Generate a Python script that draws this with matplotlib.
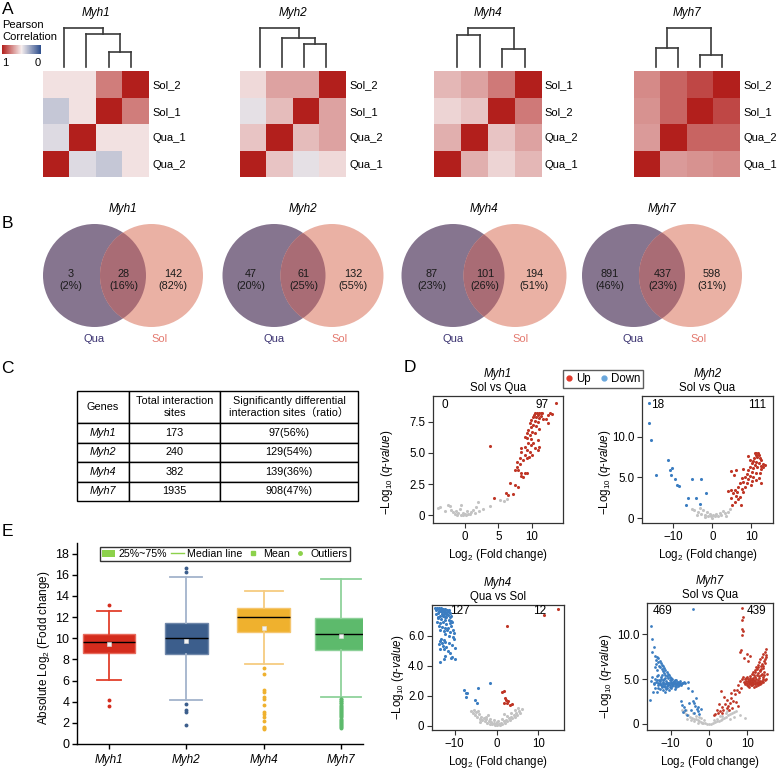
import numpy as np
import matplotlib
matplotlib.use('Agg')
import matplotlib.pyplot as plt
from matplotlib.colors import LinearSegmentedColormap, Normalize
from matplotlib.patches import Circle, Patch
from matplotlib.lines import Line2D
import matplotlib.cm as cm

plt.rcParams['font.family'] = ['Liberation Sans', 'Noto Sans CJK SC', 'DejaVu Sans']
plt.rcParams['mathtext.fontset'] = 'custom'
plt.rcParams['mathtext.rm'] = 'Liberation Sans'
plt.rcParams['mathtext.it'] = 'Liberation Sans:italic'

W, H = 777, 769

genes = ['Myh1', 'Myh2', 'Myh4', 'Myh7']

# ---------------- A: Pearson correlation (leaf order left->right = rows bottom->top)
hm_order = [['Qua_2', 'Qua_1', 'Sol_1', 'Sol_2'],
            ['Qua_1', 'Qua_2', 'Sol_1', 'Sol_2'],
            ['Qua_1', 'Qua_2', 'Sol_2', 'Sol_1'],
            ['Qua_1', 'Qua_2', 'Sol_1', 'Sol_2']]
hm_corr = [
    [[1.00, 0.44, 0.38, 0.53],
     [0.44, 1.00, 0.53, 0.53],
     [0.38, 0.53, 1.00, 0.77],
     [0.53, 0.53, 0.77, 1.00]],
    [[1.00, 0.60, 0.46, 0.55],
     [0.60, 1.00, 0.62, 0.68],
     [0.46, 0.62, 1.00, 0.68],
     [0.55, 0.68, 0.68, 1.00]],
    [[1.00, 0.65, 0.56, 0.63],
     [0.65, 1.00, 0.60, 0.68],
     [0.56, 0.60, 1.00, 0.78],
     [0.63, 0.68, 0.78, 1.00]],
    [[1.00, 0.70, 0.72, 0.74],
     [0.70, 1.00, 0.83, 0.83],
     [0.72, 0.83, 1.00, 0.90],
     [0.74, 0.83, 0.90, 1.00]],
]
# dendrogram merges: (node_a, node_b, height), leaves 0..3, new nodes 4, 5, 6
hm_merges = [
    [(2, 3, 0.385), (1, 4, 0.855), (0, 5, 1.0)],
    [(2, 3, 0.60), (1, 4, 0.75), (0, 5, 1.0)],
    [(0, 1, 0.81), (2, 3, 0.47), (4, 5, 1.0)],
    [(0, 1, 0.50), (2, 3, 0.30), (4, 5, 1.0)],
]

# ---------------- B: Venn counts
venn_qua_only = [3, 47, 87, 891]
venn_both = [28, 61, 101, 437]
venn_sol_only = [142, 132, 194, 598]

# ---------------- C: table
table_total = [173, 240, 382, 1935]
table_sig = [97, 129, 139, 908]

# ---------------- D: volcano plots (log2 FC, -log10 q)
vol_titles = ['Sol vs Qua', 'Sol vs Qua', 'Qua vs Sol', 'Sol vs Qua']
vol_n_down = [0, 18, 127, 469]
vol_n_up = [97, 111, 12, 439]

myh1_gray = [(-3.9, 0.56), (-3.6, 0.64), (-2.9, 0.29), (-2.5, 0.77), (-2.2, 0.69), (-2.0, 0.43),
             (-1.7, 0.21), (-1.5, 0.10), (-1.2, 0.02), (-1.0, 0.15), (-0.7, 0.48), (-0.6, 0.82),
             (-0.5, 0.02), (-0.25, 0.0), (0.0, 0.10), (0.25, 0.0), (0.5, 0.05), (0.75, 0.10),
             (1.0, 0.21), (1.2, 0.37), (1.5, 0.15), (1.7, 0.64), (2.0, 1.02), (2.2, 0.29),
             (2.7, 0.48), (3.7, 0.69), (5.2, 1.18), (5.8, 1.12), (6.3, 1.29), (-0.3, 0.2),
             (0.4, 0.3), (-1.3, 0.35)]
myh1_up = [(13.5, 9.05), (10.4, 8.2), (10.7, 8.2), (11.0, 8.2), (11.3, 8.2), (11.5, 8.2), (10.3, 8.06),
           (10.9, 8.06), (11.4, 7.98), (12.6, 8.2), (12.9, 8.14), (12.3, 8.06), (10.15, 7.93),
           (10.65, 7.88), (11.1, 7.8), (9.9, 7.66), (10.4, 7.61), (10.9, 7.53), (11.6, 7.72),
           (12.1, 7.72), (12.4, 7.45), (9.7, 7.39), (10.15, 7.26), (10.65, 7.18), (9.8, 7.07),
           (9.4, 6.86), (10.0, 6.72), (11.1, 6.91), (9.2, 6.59), (9.7, 6.45), (10.4, 6.59),
           (8.9, 6.32), (9.3, 6.19), (9.9, 6.11), (10.9, 6.05), (10.15, 5.84), (9.4, 5.79),
           (9.8, 5.65), (8.9, 5.52), (11.1, 5.52), (8.4, 5.39), (9.2, 5.25), (10.4, 5.39),
           (9.7, 5.11), (8.4, 5.11), (8.9, 4.85), (9.5, 4.71), (10.0, 4.85), (10.9, 5.25),
           (8.2, 4.58), (8.7, 4.45), (9.3, 4.58), (7.7, 4.31), (8.2, 4.12), (7.9, 3.64),
           (8.4, 3.42), (8.9, 3.38), (9.3, 3.38), (8.3, 3.16), (8.7, 3.1), (7.5, 3.59),
           (7.7, 3.86), (6.8, 2.62), (7.4, 2.44), (7.9, 2.3), (6.2, 1.77), (6.5, 1.61),
           (7.2, 1.69), (4.4, 1.34), (3.8, 5.57)]
myh1_down = []

myh2_gray = [(-5.3, 1.1), (-4.6, 0.95), (-3.7, 0.7), (-2.8, 0.5), (-2.0, 0.35), (-1.1, 0.3), (-0.3, 0.2),
             (0.6, 0.2), (1.5, 0.3), (2.3, 0.4), (3.2, 0.6), (4.0, 0.8), (4.5, 1.1), (-3.2, 1.2),
             (-1.4, 0.8), (-0.6, 0.5), (1.0, 0.5), (1.9, 0.65), (0.2, 0.35), (-2.4, 1.0), (2.8, 0.9),
             (-4.0, 0.4), (3.6, 0.3), (0.0, 0.05), (-1.8, 0.15)]
myh2_down = [(-16.4, 14.2), (-16.2, 11.7), (-15.7, 9.6), (-14.4, 5.3), (-11.4, 7.2), (-10.8, 5.9),
             (-10.3, 6.1), (-10.6, 5.3), (-9.5, 4.8), (-9.0, 4.1), (-8.6, 4.0), (-5.2, 4.8),
             (-3.0, 4.85), (-6.3, 2.45), (-4.1, 2.5), (-1.7, 3.06), (-6.9, 1.55), (-3.3, 1.7)]
myh2_up = [(10.9, 8.0), (11.3, 8.0), (11.8, 7.97), (11.1, 7.76), (11.9, 7.76), (11.6, 7.55), (10.7, 7.35),
           (12.2, 7.35), (12.6, 7.14), (10.5, 7.06), (11.3, 6.94), (11.9, 6.82), (13.0, 6.65),
           (10.1, 6.74), (10.9, 6.53), (12.4, 6.41), (13.5, 6.53), (9.6, 6.33), (10.5, 6.12),
           (11.6, 6.25), (12.6, 6.0), (9.2, 5.92), (7.9, 6.0), (10.1, 5.71), (11.1, 5.59),
           (12.2, 5.51), (8.8, 5.43), (9.6, 5.18), (10.5, 5.1), (8.3, 5.02), (9.2, 4.78),
           (10.2, 4.61), (7.5, 4.9), (7.9, 4.49), (9.0, 4.29), (9.9, 4.08), (7.0, 4.29),
           (8.3, 3.87), (6.6, 3.87), (7.5, 3.55), (5.7, 3.47), (6.4, 3.26), (7.9, 3.26),
           (4.9, 3.47), (4.0, 3.38), (5.3, 3.06), (6.2, 2.73), (7.0, 2.57), (6.6, 2.33),
           (4.9, 2.45), (5.7, 2.03), (7.3, 1.63), (5.1, 1.63), (4.7, 5.84), (6.2, 5.92),
           (5.6, 5.31), (9.2, 7.63), (9.6, 7.14), (11.9, 4.9), (12.6, 4.29), (13.0, 6.25),
           (11.1, 4.7)]

myh4_gray = [(-6.0, 0.95), (-5.6, 0.85), (-5.2, 0.7), (-4.9, 0.9), (-4.6, 0.55), (-4.3, 0.75),
             (-4.0, 0.45), (-3.7, 0.6), (-3.4, 0.35), (-3.1, 0.5), (-2.8, 0.3), (-2.5, 0.42),
             (-2.2, 0.2), (-1.9, 0.33), (-1.6, 0.12), (-1.3, 0.25), (-1.0, 0.08), (-0.7, 0.18),
             (-0.4, 0.04), (-0.1, 0.12), (0.2, 0.02), (0.5, 0.1), (0.8, 0.05), (1.1, 0.18),
             (1.4, 0.1), (1.7, 0.3), (2.0, 0.2), (2.3, 0.4), (2.6, 0.28), (2.9, 0.5), (3.2, 0.38),
             (3.5, 0.6), (3.8, 0.48), (4.1, 0.72), (4.4, 0.6), (4.7, 0.85), (5.0, 0.7), (5.3, 0.98),
             (5.6, 0.85), (6.0, 1.12), (-3.9, 0.25), (-2.6, 0.6), (-1.5, 0.45), (-0.6, 0.35),
             (0.4, 0.3), (1.3, 0.45), (2.4, 0.65), (3.4, 0.85), (4.5, 1.05), (-5.4, 1.05),
             (-4.4, 1.0), (5.1, 1.2), (0.0, 0.22), (-2.0, 0.7), (1.9, 0.8)]
myh4_down = [(-14.6, 7.84), (-14.1, 7.84), (-13.7, 7.84), (-13.2, 7.84), (-12.7, 7.79), (-12.2, 7.79),
             (-11.8, 7.74), (-11.3, 7.74), (-14.4, 7.70), (-13.8, 7.68), (-13.4, 7.66), (-12.9, 7.66),
             (-12.4, 7.61), (-11.9, 7.61), (-11.4, 7.57), (-14.0, 7.52), (-13.0, 7.47), (-12.6, 7.43),
             (-12.1, 7.47), (-11.6, 7.39), (-13.6, 7.34), (-12.8, 7.30), (-12.0, 7.23), (-11.2, 7.23),
             (-10.8, 7.30), (-14.0, 7.16), (-13.2, 7.11), (-12.2, 7.07), (-11.4, 7.07), (-14.1, 6.89),
             (-13.5, 6.84), (-12.8, 6.89), (-12.0, 6.78), (-11.2, 6.84), (-10.6, 6.89), (-13.8, 6.66),
             (-13.0, 6.62), (-12.4, 6.55), (-11.6, 6.49), (-10.8, 6.66), (-13.4, 6.39), (-12.6, 6.32),
             (-11.8, 6.39), (-11.0, 6.26), (-10.2, 6.22), (-12.2, 6.10), (-11.4, 5.99), (-10.4, 5.95),
             (-13.2, 5.81), (-12.6, 5.72), (-13.6, 5.65), (-13.0, 5.54), (-12.2, 5.58), (-11.4, 5.49),
             (-13.8, 5.43), (-12.8, 5.31), (-12.0, 5.27), (-10.6, 5.36), (-9.8, 5.20), (-13.6, 5.09),
             (-12.6, 5.09), (-11.6, 4.97), (-11.2, 4.86), (-12.2, 4.68), (-10.6, 4.59), (-9.8, 4.46),
             (-12.6, 4.46), (-13.6, 4.23), (-10.8, 4.53), (-10.2, 5.81), (-10.5, 6.39), (-14.3, 7.80),
             (-13.5, 7.75), (-12.5, 7.72), (-11.6, 7.65), (-13.1, 7.58), (-12.3, 7.50), (-14.5, 7.45),
             (-11.0, 7.50), (-13.9, 7.25), (-12.4, 7.25), (-10.9, 7.00),
             (-7.8, 2.39), (-7.4, 2.2), (-7.0, 2.2), (-7.2, 1.93), (-4.4, 2.5), (-1.6, 2.84),
             (-5.2, 1.71), (-4.7, 1.53)]
myh4_up = [(14.6, 7.79), (11.4, 7.41), (2.5, 6.66), (1.35, 2.27), (1.7, 2.34), (2.0, 1.82), (2.3, 1.71),
           (2.8, 1.66), (1.8, 1.53), (2.6, 1.49), (3.2, 1.39), (3.7, 1.44)]

myh7_gray = [(-6.5, 1.3), (-6.0, 1.1), (-5.5, 1.0), (-5.0, 0.8), (-4.5, 0.7), (-4.0, 0.6), (-3.5, 0.5),
             (-3.0, 0.4), (-2.5, 0.3), (-2.0, 0.25), (-1.5, 0.15), (-1.0, 0.1), (-0.5, 0.05), (0.0, 0.02),
             (0.5, 0.05), (1.0, 0.1), (1.5, 0.2), (2.0, 0.3), (2.5, 0.35), (3.0, 0.45), (3.5, 0.55),
             (4.0, 0.7), (4.5, 0.8), (5.0, 0.95), (5.5, 1.1), (6.0, 1.2), (6.5, 1.3), (7.0, 1.4),
             (-5.8, 0.6), (-4.8, 0.4), (-3.8, 0.3), (-2.8, 0.15), (-1.8, 0.1), (-7.0, 1.5), (-3.3, 0.9),
             (-2.2, 0.7), (-1.2, 0.4), (1.2, 0.45), (2.2, 0.6), (3.3, 0.9), (4.4, 1.2), (5.4, 0.6),
             (6.4, 0.8), (-6.0, 1.6), (-4.2, 1.2), (-2.6, 0.8), (2.8, 0.9), (4.8, 1.4), (8.0, 1.0),
             (9.5, 0.7)]
myh7_down = [(-4.3, 12.8), (-15.1, 10.9), (-15.0, 9.4), (-14.5, 8.6), (-14.8, 8.0),
             (-13.6, 7.4), (-13.2, 7.3), (-13.8, 7.1), (-12.9, 7.0), (-13.4, 6.9), (-12.6, 6.8),
             (-13.9, 6.7), (-12.3, 6.6), (-13.0, 6.5), (-12.0, 6.4), (-12.7, 6.3), (-11.7, 6.2),
             (-12.3, 6.1), (-11.4, 6.0), (-13.5, 6.0), (-12.0, 5.9), (-11.1, 5.8), (-11.7, 5.7),
             (-10.8, 5.6), (-11.4, 5.5), (-10.4, 5.4), (-13.2, 5.5), (-14.0, 6.3), (-14.2, 7.6),
             (-14.8, 5.2), (-15.1, 4.8), (-14.5, 4.5), (-14.2, 5.0), (-13.8, 4.7), (-13.5, 5.3),
             (-13.3, 4.3), (-13.0, 4.9), (-12.8, 4.5), (-12.5, 5.2), (-12.3, 4.1), (-12.1, 4.7),
             (-11.8, 5.0), (-11.6, 4.4), (-11.3, 4.8), (-11.0, 4.2), (-10.8, 5.1), (-10.6, 4.6),
             (-10.3, 4.9), (-10.1, 4.3), (-9.9, 4.7), (-9.6, 5.0), (-9.4, 4.5), (-9.2, 4.8),
             (-9.0, 4.2), (-8.8, 4.6), (-8.5, 4.9), (-8.3, 4.4), (-8.0, 4.7), (-7.8, 4.5),
             (-7.5, 4.8), (-7.3, 4.4), (-12.9, 3.9), (-12.0, 3.8), (-11.2, 3.9), (-10.5, 3.8),
             (-13.6, 3.6), (-11.5, 3.5), (-10.0, 4.0), (-9.0, 3.9), (-14.0, 4.0), (-12.6, 4.3),
             (-11.9, 4.4), (-10.9, 4.5), (-10.2, 5.2), (-9.8, 4.4), (-8.7, 4.3), (-8.1, 4.2),
             (-7.1, 4.6), (-6.6, 4.7), (-6.2, 4.5), (-5.6, 4.7), (-5.4, 4.0), (-4.5, 3.7),
             (-12.2, 5.4), (-11.0, 5.3), (-13.2, 4.0), (-14.6, 3.5),
             (-13.4, 4.6), (-12.7, 4.8), (-12.4, 4.2), (-11.9, 4.9), (-11.4, 4.1), (-11.1, 4.6),
             (-10.7, 4.3), (-10.4, 4.6), (-10.0, 4.9), (-9.7, 4.2), (-9.5, 4.7), (-9.1, 4.5),
             (-8.9, 4.9), (-8.6, 4.1), (-8.2, 4.5), (-7.9, 4.3), (-7.6, 4.6), (-12.6, 5.0),
             (-12.1, 4.5), (-11.7, 4.2), (-11.3, 4.6), (-10.9, 4.0), (-10.6, 4.4), (-10.3, 4.1),
             (-9.9, 4.5), (-9.3, 4.3), (-12.9, 4.4), (-13.7, 4.9), (-14.3, 4.4), (-11.5, 5.1),
             (-10.0, 5.1), (-9.0, 4.6), (-8.4, 4.7), (-7.2, 4.3), (-6.9, 4.5),
             (-15.3, 2.7), (-7.3, 2.5), (-7.0, 2.1), (-6.6, 1.9), (-6.3, 1.6), (-6.8, 1.3),
             (-5.8, 1.0), (-4.3, 2.6), (-4.0, 2.3), (-3.6, 2.0), (-3.2, 1.7), (-3.5, 2.9),
             (-2.8, 1.4), (-3.0, 1.9), (-4.7, 1.5), (-3.9, 1.2), (-2.5, 1.1), (-5.2, 2.3), (-2.2, 1.7)]
myh7_up = [(8.5, 12.9), (8.9, 11.9), (8.7, 11.6), (8.5, 10.6), (8.9, 10.3), (8.7, 9.9), (8.3, 8.2),
           (8.0, 8.0), (9.8, 7.8), (10.6, 7.6), (9.0, 7.3), (10.2, 7.0),
           (15.0, 8.3), (14.6, 8.0), (14.2, 7.8), (14.8, 7.5), (13.8, 7.5), (13.4, 7.2), (14.3, 7.0),
           (13.0, 6.9), (14.7, 6.8), (12.7, 6.6), (13.6, 6.5), (12.3, 6.3), (14.0, 6.2), (11.9, 6.0),
           (13.2, 6.0), (11.5, 5.8), (12.8, 5.7), (14.4, 5.8), (11.1, 5.6), (12.4, 5.5), (13.5, 5.4),
           (15.2, 5.6), (10.8, 5.3), (12.0, 5.2), (13.1, 5.1), (14.1, 5.2), (15.0, 5.0),
           (9.3, 5.0), (9.6, 4.8), (9.8, 5.2), (10.0, 4.6), (10.2, 5.0), (10.4, 4.4), (10.6, 4.8),
           (10.9, 4.5), (11.1, 4.9), (11.3, 4.3), (11.6, 4.7), (11.9, 4.4), (12.1, 4.8), (12.4, 4.5),
           (12.7, 4.9), (13.0, 4.6), (13.3, 4.8), (13.6, 4.5), (14.0, 4.7), (9.1, 4.7), (10.5, 4.1),
           (11.8, 4.1), (12.9, 4.3), (8.9, 5.2), (9.4, 4.4), (10.7, 5.1), (11.4, 5.1), (14.5, 4.9),
           (9.5, 4.6), (9.9, 4.3), (10.1, 4.8), (10.3, 4.2), (10.6, 4.5), (10.8, 4.9), (11.0, 4.3),
           (11.2, 4.7), (11.5, 4.4), (11.7, 4.9), (12.0, 4.6), (12.2, 4.2), (12.5, 4.7), (12.8, 4.4),
           (13.1, 4.7), (13.4, 4.4), (13.7, 4.8), (14.2, 5.0), (14.4, 5.4), (13.9, 5.6), (13.3, 5.9),
           (12.6, 6.1), (12.1, 5.8), (11.7, 5.4), (12.9, 6.3), (13.7, 6.7), (14.1, 6.5), (14.5, 7.2),
           (14.9, 7.7), (13.5, 6.1), (11.3, 5.0), (10.5, 4.7), (9.7, 5.1), (12.3, 5.0), (13.0, 5.3),
           (8.6, 5.0), (8.2, 4.8), (7.6, 4.3), (7.2, 3.8), (6.8, 3.3), (5.8, 2.9), (6.3, 2.6),
           (5.5, 2.3), (5.0, 2.0), (4.6, 1.8), (4.2, 2.2), (3.7, 1.6), (3.3, 1.9), (2.9, 1.4),
           (2.4, 1.2), (2.0, 1.5), (1.6, 1.1), (1.2, 1.0), (4.0, 3.0), (3.0, 3.7), (4.8, 2.7),
           (6.0, 1.8), (7.0, 2.4), (7.5, 2.0), (5.3, 1.5), (3.5, 1.2), (2.6, 2.2), (7.9, 3.5),
           (8.4, 4.0), (6.5, 3.8), (5.7, 3.4)]

vol_gray = [myh1_gray, myh2_gray, myh4_gray, myh7_gray]
vol_down = [myh1_down, myh2_down, myh4_down, myh7_down]
vol_up = [myh1_up, myh2_up, myh4_up, myh7_up]

# ---------------- E: absolute log2 fold change box plot
box_q1 = [8.62, 8.49, 10.58, 8.87]
box_med = [9.6, 10.0, 12.0, 10.4]
box_q3 = [10.39, 11.43, 12.85, 11.94]
box_mean = [9.45, 9.7, 10.95, 10.2]
box_whislo = [6.03, 4.2, 7.55, 4.45]
box_whishi = [12.6, 15.8, 14.5, 15.55]
box_fliers = [
    [13.15, 4.2, 3.6],
    [16.6, 16.3, 3.8, 3.2, 3.05, 1.75],
    [7.15, 6.65, 5.15, 4.95, 4.45, 4.25, 3.7, 3.0, 2.8, 2.55, 2.2, 1.65, 1.5, 1.4],
    [4.3, 4.22, 4.1, 4.02, 3.9, 3.83, 3.7, 3.62, 3.5, 3.41, 3.3, 3.2, 3.12, 3.0, 2.93, 2.8,
     2.71, 2.6, 2.52, 2.4, 2.3, 2.21, 2.1, 2.02, 1.9, 1.81, 1.7, 1.62, 1.55],
]


def fig_rect(x0, y0, x1, y1):
    return [x0 / W, 1 - y1 / H, (x1 - x0) / W, (y1 - y0) / H]


fig = plt.figure(figsize=(W / 100, H / 100), dpi=100)

for letter, (lx, ly) in zip('ABCDE', [(8, 10), (7, 223), (7, 369), (410, 368), (7, 532)]):
    fig.text(lx / W, 1 - ly / H, letter, fontsize=12.5, ha='center', va='center')

# ================= A =================
pc_cmap = LinearSegmentedColormap.from_list('pc', ['#2c4d8c', '#f6eeee', '#b21f1c'])
hm_boxes = [(43, 71, 149, 177), (240, 71, 346, 177), (434, 71, 541, 177), (634, 71, 740, 177)]
dn_boxes = [(64, 28, 131, 67), (260, 28, 326, 67), (457, 28, 525, 67), (656, 28, 722, 67)]

for g, order, mat, merges, hb, db in zip(genes, hm_order, hm_corr, hm_merges, hm_boxes, dn_boxes):
    ax = fig.add_axes(fig_rect(*hb))
    ax.imshow(np.array(mat), cmap=pc_cmap, vmin=0, vmax=1, origin='lower',
              extent=(-0.5, 3.5, -0.5, 3.5), aspect='auto')
    ax.set_xticks([])
    ax.set_yticks(range(4))
    ax.set_yticklabels(order)
    ax.yaxis.tick_right()
    ax.tick_params(axis='y', length=0, pad=2.5, labelsize=8)
    for s in ax.spines.values():
        s.set_visible(False)
    fig.text((hb[0] + hb[2]) / 2 / W, 1 - 13 / H, g, style='italic', fontsize=8.5,
             ha='center', va='center')

    dax = fig.add_axes(fig_rect(*db))
    xs = [0.0, 1.0, 2.0, 3.0]
    hs = [0.0, 0.0, 0.0, 0.0]
    for a, b, h in merges:
        for c in (a, b):
            dax.plot([xs[c], xs[c]], [hs[c], h], color='#3a3a3a', lw=1.2, clip_on=False)
        dax.plot([xs[a], xs[b]], [h, h], color='#3a3a3a', lw=1.2, clip_on=False,
                 solid_capstyle='projecting')
        xs.append((xs[a] + xs[b]) / 2)
        hs.append(h)
    dax.set_xlim(0, 3)
    dax.set_ylim(0, 1)
    dax.axis('off')

fig.text(2 / W, 1 - 31 / H, 'Pearson\nCorrelation', fontsize=8, ha='left', va='center',
         linespacing=1.35)
cax = fig.add_axes(fig_rect(2, 45, 41, 54))
sm = cm.ScalarMappable(norm=Normalize(0, 1), cmap=pc_cmap)
cb = fig.colorbar(sm, cax=cax, orientation='horizontal')
cb.set_ticks([])
cb.outline.set_visible(False)
cax.invert_xaxis()
fig.text(5 / W, 1 - 63 / H, '1', fontsize=8, ha='center', va='center')
fig.text(38 / W, 1 - 63 / H, '0', fontsize=8, ha='center', va='center')

# ================= B =================
qua_col, sol_col, ov_col = '#86758f', '#eab1a4', '#a96c75'
venn_centers = [123, 303, 484, 662]
venn_offsets = [57, 58, 62, 57]
R = 51.5
for i, g in enumerate(genes):
    c, d = venn_centers[i], venn_offsets[i]
    vax = fig.add_axes(fig_rect(c - 90, 198, c + 90, 348))
    vax.set_xlim(-90, 90)
    vax.set_ylim(-72.5, 77.5)
    vax.axis('off')
    left = Circle((-d / 2, 0), R, fc=qua_col, ec='none')
    right = Circle((d / 2, 0), R, fc=sol_col, ec='none')
    ov = Circle((d / 2, 0), R, fc=ov_col, ec='none')
    vax.add_patch(left)
    vax.add_patch(right)
    vax.add_patch(ov)
    ov.set_clip_path(left)
    tot = venn_qua_only[i] + venn_both[i] + venn_sol_only[i]
    for val, xo in zip([venn_qua_only[i], venn_both[i], venn_sol_only[i]], [-52, 1, 50]):
        vax.text(xo, -4.5, f'{val}\n({round(100 * val / tot)}%)', fontsize=7.8, ha='center',
                 va='center', linespacing=1.3, color='#1a1a1a')
    vax.text(0, 66.5, g, style='italic', fontsize=8.5, ha='center', va='center')
    vax.text(-d / 2, -63.5, 'Qua', fontsize=8, color='#3c3472', ha='center', va='center')
    vax.text(37, -63.5, 'Sol', fontsize=8, color='#e47a70', ha='center', va='center')

# ================= C =================
tax = fig.add_axes(fig_rect(77, 391, 358, 501))
tax.axis('off')
cell_text = [['Genes', 'Total interaction\nsites', 'Significantly differential\ninteraction sites（ratio）']]
for g, t, s in zip(genes, table_total, table_sig):
    cell_text.append([g, str(t), f'{s}({round(100 * s / t)}%)'])
col_w = np.array([52, 91, 138]) / 281
tbl = tax.table(cellText=cell_text, colWidths=list(col_w), cellLoc='center', bbox=[0, 0, 1, 1])
tbl.auto_set_font_size(False)
tbl.set_fontsize(7.8)
for (r, cc), cell in tbl.get_celld().items():
    cell.set_height(32 if r == 0 else 19.5)
    cell.set_linewidth(1.0)
    cell.set_edgecolor('black')
    if r > 0 and cc == 0:
        cell.get_text().set_style('italic')
    cell.get_text().set_linespacing(1.25)

# ================= D =================
vol_boxes = [(433, 396, 563, 523), (642, 396, 773, 523), (432, 605, 564, 730), (647, 603, 773, 730)]
vol_xlim = [(-4.7, 14.6), (-18.1, 15.6), (-15.4, 16.1), (-16.2, 16.7)]
vol_ylim = [(-0.64, 9.59), (-0.6, 15.0), (-0.3, 8.06), (-0.67, 13.45)]
vol_xticks = [[0, 5, 10], [-10, 0, 10], [-10, 0, 10], [-10, 0, 10]]
vol_yticks = [[0, 2.5, 5, 7.5], [0, 5, 10], [0, 2, 4, 6], [0, 5, 10]]
vol_ylabels = [['0', '2.5', '5.0', '7.5'], ['0', '5.0', '10.0'], ['0', '2.0', '4.0', '6.0'],
               ['0', '5.0', '10.0']]
vol_ylab_pos = [(-0.29, 0.40), (-0.225, 0.40), (-0.20, 0.42), (-0.26, 0.42)]
vol_count_pos = [((0.09, 0.93), (0.84, 0.93)), ((0.12, 0.93), (0.875, 0.93)),
                 ((0.21, 0.948), (0.815, 0.948)), ((0.12, 0.94), (0.87, 0.94))]
up_col, down_col, ns_col = '#bf3626', '#3b7dc1', '#c3c3c3'

for i, g in enumerate(genes):
    ax = fig.add_axes(fig_rect(*vol_boxes[i]))
    ms = 4 if i == 3 else 5
    for pts, col in [(vol_gray[i], ns_col), (vol_down[i], down_col), (vol_up[i], up_col)]:
        if pts:
            arr = np.array(pts)
            ax.scatter(arr[:, 0], arr[:, 1], s=ms, c=col, linewidths=0)
    ax.set_xlim(*vol_xlim[i])
    ax.set_ylim(*vol_ylim[i])
    ax.set_xticks(vol_xticks[i])
    ax.set_yticks(vol_yticks[i])
    ax.set_yticklabels(vol_ylabels[i])
    ax.tick_params(direction='out', length=3.5, width=0.8, labelsize=8.3, color='#333333', pad=2)
    for s in ax.spines.values():
        s.set_linewidth(0.9)
        s.set_color('#333333')
    ax.set_xlabel('Log$_2$ (Fold change)', fontsize=8.3, labelpad=3)
    ax.set_ylabel('\u2212Log$_{10}$ ($\\it{q}$-$\\it{value}$)', fontsize=8.3)
    ax.yaxis.set_label_coords(*vol_ylab_pos[i])
    ax.text(0.5, 1.175, g, style='italic', fontsize=8.3, ha='center', va='center',
            transform=ax.transAxes)
    ax.text(0.5, 1.065, vol_titles[i], fontsize=8.3, ha='center', va='center',
            transform=ax.transAxes)
    (dx, dy), (ux, uy) = vol_count_pos[i]
    ax.text(dx, dy, str(vol_n_down[i]), fontsize=8.5, ha='center', va='center', transform=ax.transAxes)
    ax.text(ux, uy, str(vol_n_up[i]), fontsize=8.5, ha='center', va='center', transform=ax.transAxes)

vol_handles = [Line2D([], [], ls='none', marker='o', ms=3.5, color='#e0392b'),
               Line2D([], [], ls='none', marker='o', ms=3.5, color='#6aa7dc')]
fig.legend(vol_handles, ['Up', 'Down'], loc='center', bbox_to_anchor=(603 / W, 1 - 379 / H),
           ncol=2, fontsize=8.3, frameon=True, fancybox=False, edgecolor='#333333',
           handlelength=0.6, handletextpad=0.3, columnspacing=0.8, borderpad=0.3,
           borderaxespad=0).get_frame().set_linewidth(1.0)

# ================= E =================
box_fc = ['#d52c1d', '#3c5e8c', '#efb12e', '#5dba6c']
box_wc = ['#e2402c', '#a2b3cb', '#f6cb80', '#8fd29b']
box_ec = ['#e86a5c', '#6f87aa', '#f5c66f', '#8cd098']
box_w = [0.66, 0.55, 0.68, 0.68]
cap_w = [0.31, 0.41, 0.49, 0.52]
eax = fig.add_axes(fig_rect(77, 543, 363, 744))
for i in range(4):
    st = dict(med=box_med[i], q1=box_q1[i], q3=box_q3[i], whislo=box_whislo[i],
              whishi=box_whishi[i], mean=box_mean[i], fliers=box_fliers[i])
    eax.bxp([st], positions=[i + 1], widths=box_w[i], capwidths=cap_w[i], patch_artist=True,
            showmeans=True, manage_ticks=False,
            boxprops=dict(facecolor=box_fc[i], edgecolor=box_ec[i], linewidth=1.0),
            whiskerprops=dict(color=box_wc[i], linewidth=1.3),
            capprops=dict(color=box_wc[i], linewidth=1.3),
            medianprops=dict(color='black', linewidth=1.0),
            meanprops=dict(marker='s', markersize=2.8, markerfacecolor='#f3f3f3',
                           markeredgecolor='#dddddd', markeredgewidth=0.4),
            flierprops=dict(marker='o', markersize=2.8, markerfacecolor=box_fc[i],
                            markeredgecolor='none'))
eax.set_xlim(0.586, 4.285)
eax.set_ylim(0, 19)
eax.set_yticks(range(0, 19, 2))
eax.set_xticks([1, 2, 3, 4])
eax.set_xticklabels(genes, style='italic')
eax.tick_params(direction='out', length=3.5, width=1.0, labelsize=9, pad=2)
eax.tick_params(axis='x', labelsize=8.5, pad=4)
for s in ['top', 'right']:
    eax.spines[s].set_visible(False)
for s in ['left', 'bottom']:
    eax.spines[s].set_linewidth(1.0)
eax.set_ylabel('Absolute Log$_2$ (Fodd change)', fontsize=8.5)
eax.yaxis.set_label_coords(-0.087, 0.48)

leg_green = '#8cd14b'
e_handles = [Patch(facecolor=leg_green, edgecolor='none'),
             Line2D([], [], color=leg_green, lw=1.0),
             Line2D([], [], ls='none', marker='s', ms=2.5, color=leg_green),
             Line2D([], [], ls='none', marker='o', ms=2.5, color=leg_green)]
leg = eax.legend(e_handles, ['25%~75%', 'Median line', 'Mean', 'Outliers'], loc='center',
                 bbox_to_anchor=(0.517, 0.945), ncol=4, fontsize=7.7, frameon=True,
                 fancybox=False, edgecolor='black', handlelength=1.2, handletextpad=0.35,
                 columnspacing=0.35, borderpad=0.2, borderaxespad=0)
leg.get_frame().set_linewidth(1.0)

fig.savefig('out.png', dpi=100)
